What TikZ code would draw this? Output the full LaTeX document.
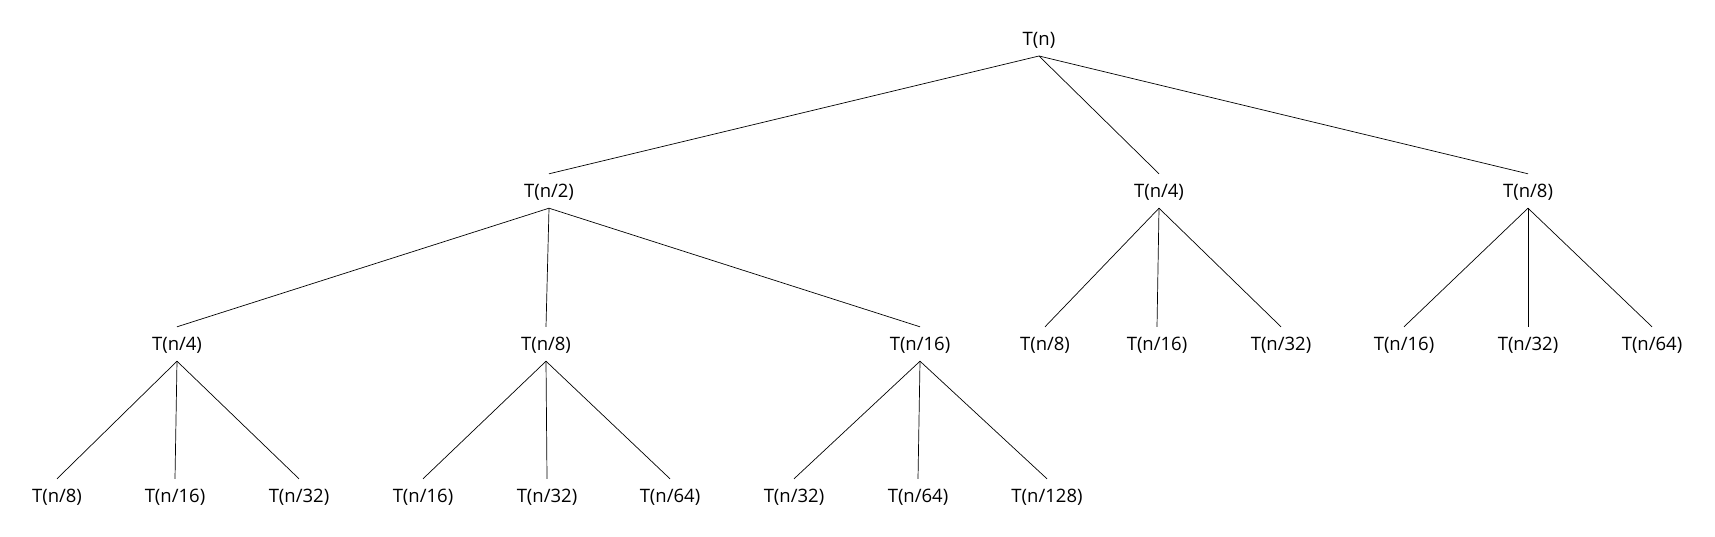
\documentclass[tikz,border=0pt]{standalone}
\usepackage{fontspec}
\setmainfont{Open Sans}
\begin{document}
\begin{tikzpicture}[x=1pt,y=1pt,
  tn/.style={inner sep=0pt, minimum height=34pt, text height=17.2pt, text depth=4.6pt, font=\fontsize{18.5}{20}\selectfont},
  edge/.style={draw=black, line width=0.7pt}]
\useasboundingbox (0,0) rectangle (1715,-537);
% row 0
\node[tn] (r) at (1039,-38.8) {T(n)};
% row 1
\node[tn] (a) at (549,-191) {T(n/2)};
\node[tn] (b) at (1159,-191) {T(n/4)};
\node[tn] (c) at (1528,-191) {T(n/8)};
% row 2
\node[tn] (aa) at (177,-344) {T(n/4)};
\node[tn] (ab) at (546,-344) {T(n/8)};
\node[tn] (ac) at (920,-344) {T(n/16)};
\node[tn] (ba) at (1045,-344) {T(n/8)};
\node[tn] (bb) at (1157,-344) {T(n/16)};
\node[tn] (bc) at (1281,-344) {T(n/32)};
\node[tn] (ca) at (1404,-344) {T(n/16)};
\node[tn] (cb) at (1528,-344) {T(n/32)};
\node[tn] (cc) at (1652,-344) {T(n/64)};
% row 3
\node[tn] (aaa) at (57,-496) {T(n/8)};
\node[tn] (aab) at (175,-496) {T(n/16)};
\node[tn] (aac) at (299,-496) {T(n/32)};
\node[tn] (aba) at (423,-496) {T(n/16)};
\node[tn] (abb) at (547,-496) {T(n/32)};
\node[tn] (abc) at (670,-496) {T(n/64)};
\node[tn] (aca) at (794,-496) {T(n/32)};
\node[tn] (acb) at (918,-496) {T(n/64)};
\node[tn] (acc) at (1047,-496) {T(n/128)};
% edges
\foreach \p/\c in {r/a,r/b,r/c,a/aa,a/ab,a/ac,b/ba,b/bb,b/bc,c/ca,c/cb,c/cc,
  aa/aaa,aa/aab,aa/aac,ab/aba,ab/abb,ab/abc,ac/aca,ac/acb,ac/acc}
  \draw[edge] (\p.south) -- (\c.north);
\end{tikzpicture}
\end{document}
